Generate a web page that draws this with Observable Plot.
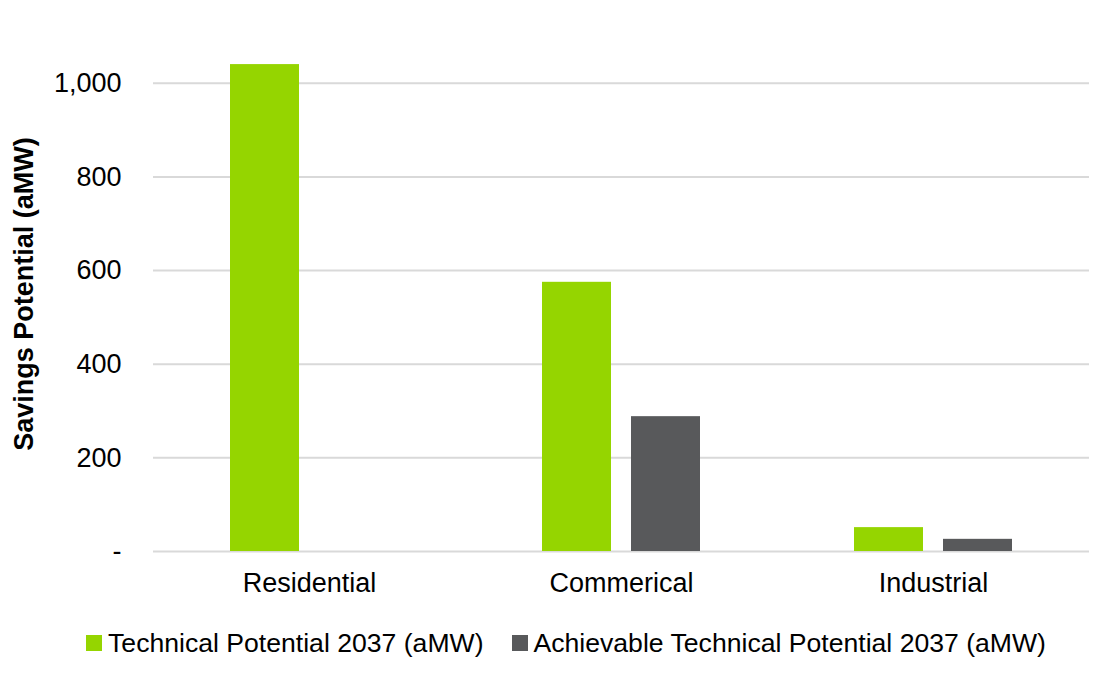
<!DOCTYPE html>
<html><head><meta charset="utf-8">
<script src="https://cdn.jsdelivr.net/npm/d3@7"></script>
<script src="https://cdn.jsdelivr.net/npm/@observablehq/plot@0.6"></script>
<style>
body{margin:0;background:#fff;font-family:"Liberation Sans",Arial,sans-serif;}
#legend{display:flex;justify-content:center;gap:28px;font-size:26.6px;color:#000;margin-top:18px;line-height:30px;padding-left:19px;}
.item{display:flex;align-items:center;}
.sw{width:16px;height:16px;margin-right:6px;}
[aria-label="y-axis label"] text{font-weight:bold;}
</style></head><body><div id="chart"></div><div id="legend"></div>
<script>
const categories = ["Residential", "Commerical", "Industrial"];
const series = ["Technical Potential 2037 (aMW)", "Achievable Technical Potential 2037 (aMW)"];
const technical = [1040, 575, 51];
const achievable = [null, 288, 26];
const yTicks = [0, 200, 400, 600, 800, 1000];
const colors = ["#95d500", "#58595b"];

const data = [];
categories.forEach((c, i) => {
  data.push({category: c, series: series[0], value: technical[i]});
  if (achievable[i] != null) data.push({category: c, series: series[1], value: achievable[i]});
});

const plot = Plot.plot({
  width: 1113, height: 610,
  marginLeft: 152, marginRight: 23, marginTop: 36, marginBottom: 59,
  style: {fontFamily: "'Liberation Sans', Arial, sans-serif", fontSize: "27px", color: "#000", background: "#fff"},
  fx: {domain: categories, padding: 0, label: null, tickSize: 0, tickPadding: 21, axis: "bottom"},
  x: {domain: series, paddingInner: 0.2222, paddingOuter: 0.848, axis: null},
  y: {domain: [0, 1100], ticks: yTicks, tickFormat: d => d === 0 ? "-" : d3.format(",")(d),
      tickSize: 0, tickPadding: 32, label: "Savings Potential (aMW)", labelAnchor: "center",
      labelArrow: "none", labelOffset: 140},
  color: {domain: series, range: colors},
  marks: [
    Plot.gridY(yTicks, {stroke: "#d9d9d9", strokeOpacity: 1, strokeWidth: 2}),
    Plot.barY(data, {fx: "category", x: "series", y: "value", fill: "series"})
  ]
});
document.getElementById("chart").appendChild(plot);

const legend = document.getElementById("legend");
series.forEach((s, i) => {
  const item = document.createElement("div");
  item.className = "item";
  const sw = document.createElement("span");
  sw.className = "sw";
  sw.style.background = colors[i];
  const t = document.createElement("span");
  t.textContent = s;
  item.appendChild(sw);
  item.appendChild(t);
  legend.appendChild(item);
});
</script></body></html>
